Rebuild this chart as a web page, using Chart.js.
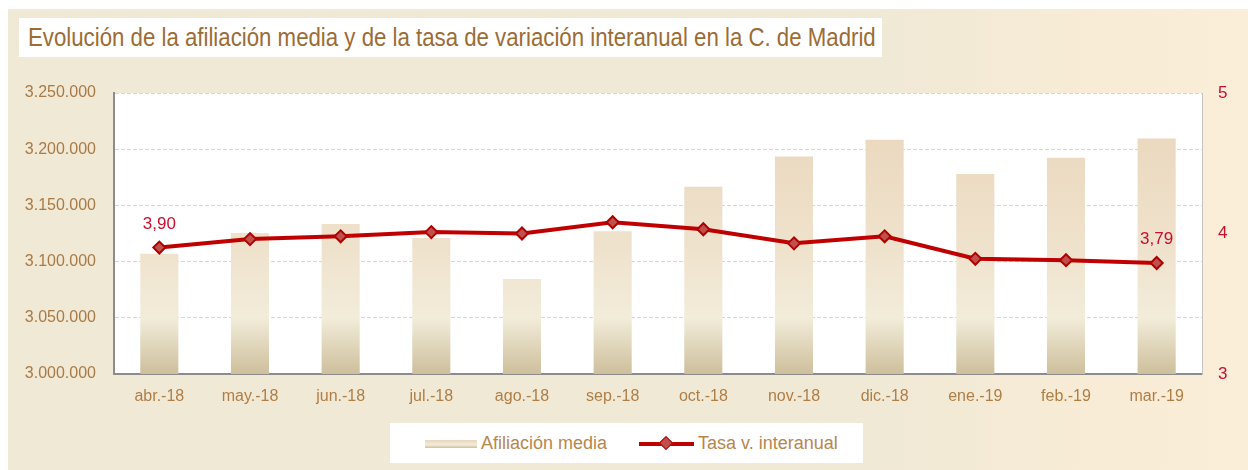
<!DOCTYPE html>
<html>
<head>
<meta charset="utf-8">
<script src="https://cdn.jsdelivr.net/npm/chart.js@4.4.1/dist/chart.umd.min.js"></script>
<style>
  html, body { margin: 0; padding: 0; background: #fff; }
  body { width: 1248px; height: 470px; position: relative; overflow: hidden;
         font-family: 'Liberation Sans', Arial, sans-serif; }
  #frame { position: absolute; left: 8px; top: 9px; width: 1240px; height: 461px;
           background: linear-gradient(90deg, #f0e9d5 0%, #f0e9d5 70%, #f9ecd6 90%, #fbeed8 100%); }
  #title { position: absolute; left: 19px; top: 18px; width: 863px; height: 39px; background: #fff; overflow: hidden; }
  #title span { position: absolute; left: 9px; top: 0; line-height: 39px; white-space: nowrap;
                color: #9c6c35; font-size: 26px; transform: scaleX(0.855); transform-origin: 0 50%; }
  #chartBox { position: absolute; left: 0; top: 0; width: 1248px; height: 410px; }
  #legend { position: absolute; left: 390px; top: 423px; width: 473px; height: 40px; background: #fff;
            color: #b8864e; font-size: 18px; }
  .lg { position: absolute; top: 0; height: 40px; line-height: 40px; white-space: nowrap; }
  .swatch { display: inline-block; vertical-align: middle; }
</style>
</head>
<body>
<div id="frame"></div>
<div id="title"><span>Evolución de la afiliación media y de la tasa de variación interanual en la C. de Madrid</span></div>
<div id="chartBox"><canvas id="chart" width="1248" height="410"></canvas></div>
<div id="legend"></div>
<script>
// Data
const months = ['abr.-18', 'may.-18', 'jun.-18', 'jul.-18', 'ago.-18', 'sep.-18',
                'oct.-18', 'nov.-18', 'dic.-18', 'ene.-19', 'feb.-19', 'mar.-19'];
const afiliacion = [3107000, 3125500, 3133500, 3121000, 3084500, 3127000,
                    3166500, 3193500, 3208500, 3178000, 3192500, 3209500];
const tasa = [3.90, 3.96, 3.98, 4.01, 4.00, 4.08, 4.03, 3.93, 3.98, 3.82, 3.81, 3.79];
const leftTicks = [3000000, 3050000, 3100000, 3150000, 3200000, 3250000];
const rightTicks = [3, 4, 5];
const labeledPoints = [0, 11]; // points with value labels

const seriesNames = ['Afiliación media', 'Tasa v. interanual'];

function fmtThousands(v) {
    return String(Math.round(v)).replace(/\B(?=(\d{3})+(?!\d))/g, '.');
}

const ctx = document.getElementById('chart').getContext('2d');

function barGradient(context) {
    const area = context.chart.chartArea;
    if (!area) return '#ead8c0';
    const g = context.chart.ctx.createLinearGradient(0, area.top, 0, area.bottom);
    g.addColorStop(0, '#e9d5ba');
    g.addColorStop(0.55, '#efe2cc');
    g.addColorStop(0.8, '#f2ecda');
    g.addColorStop(1, '#cdbf9b');
    return g;
}

// white plot background
const plotBg = {
    id: 'plotBg',
    beforeDraw(chart) {
        const a = chart.chartArea;
        chart.ctx.save();
        chart.ctx.fillStyle = '#ffffff';
        chart.ctx.fillRect(a.left, a.top, a.right - a.left, a.bottom - a.top);
        chart.ctx.restore();
    }
};

// value labels on first and last point
const pointLabels = {
    id: 'pointLabels',
    afterDatasetsDraw(chart) {
        const meta = chart.getDatasetMeta(1);
        const c = chart.ctx;
        c.save();
        c.fillStyle = '#c8102e';
        c.font = '17px "Liberation Sans", sans-serif';
        c.textAlign = 'center';
        c.textBaseline = 'bottom';
        labeledPoints.forEach(i => {
            const p = meta.data[i];
            c.fillText(tasa[i].toFixed(2).replace('.', ','), p.x, p.y - 15);
        });
        c.restore();
    }
};

const tickFont = { family: '"Liberation Sans", sans-serif', size: 16 };

new Chart(ctx, {
    type: 'bar',
    data: {
        labels: months,
        datasets: [{
            type: 'bar',
            label: seriesNames[0],
            data: afiliacion,
            backgroundColor: barGradient,
            yAxisID: 'y',
            categoryPercentage: 1,
            barPercentage: 0.42,
            order: 2
        }, {
            type: 'line',
            label: seriesNames[1],
            data: tasa,
            borderColor: '#c00000',
            borderWidth: 4,
            pointStyle: 'rectRot',
            pointRadius: 6,
            pointBackgroundColor: '#c0504d',
            pointBorderColor: '#b00000',
            pointBorderWidth: 2,
            yAxisID: 'y1',
            tension: 0,
            order: 1
        }]
    },
    options: {
        responsive: false,
        animation: false,
        layout: { padding: { top: 93, left: 0, right: 0, bottom: 0 } },
        plugins: {
            legend: { display: false },
            tooltip: { enabled: false }
        },
        scales: {
            x: {
                grid: { display: false, drawTicks: false },
                border: { color: '#8c8c8c', width: 2 },
                ticks: { color: '#b07d45', font: tickFont, padding: 13 },
                afterFit(scale) { scale.height = 36; }
            },
            y: {
                position: 'left',
                min: leftTicks[0],
                max: leftTicks[leftTicks.length - 1],
                afterBuildTicks(scale) {
                    scale.ticks = leftTicks.map(v => ({ value: v }));
                },
                grid: { color: '#e6d3bf', lineWidth: 1, drawTicks: false },
                border: { color: '#8c8c8c', width: 2, dash: [4, 2] },
                ticks: { color: '#a97a45', font: tickFont, padding: 18,
                         callback: v => fmtThousands(v) },
                afterFit(scale) { scale.width = 114; }
            },
            y1: {
                position: 'right',
                min: rightTicks[0],
                max: rightTicks[rightTicks.length - 1],
                afterBuildTicks(scale) {
                    scale.ticks = rightTicks.map(v => ({ value: v }));
                },
                grid: { display: false, drawTicks: false },
                border: { color: '#c4c4c4', width: 1 },
                ticks: { color: '#c8102e', font: { family: tickFont.family, size: 17 }, padding: 16 },
                afterFit(scale) { scale.width = 46; }
            }
        }
    },
    plugins: [plotBg, pointLabels]
});

// legend
const legend = document.getElementById('legend');
legend.innerHTML =
    '<div class="lg" style="left:35px"><span class="swatch" style="width:52px;height:8px;margin-right:4px;' +
    'background:linear-gradient(180deg,#e9d5ba,#f2ecda 60%,#cdbf9b)"></span>' + seriesNames[0] + '</div>' +
    '<div class="lg" style="left:249px"><span class="swatch" style="position:relative;width:55px;height:4px;margin-right:4px;background:#c00000">' +
    '<span style="position:absolute;left:22px;top:-4px;width:8px;height:8px;background:#c0504d;border:1px solid #b00000;transform:rotate(45deg)"></span></span>' +
    seriesNames[1] + '</div>';
</script>
</body>
</html>
